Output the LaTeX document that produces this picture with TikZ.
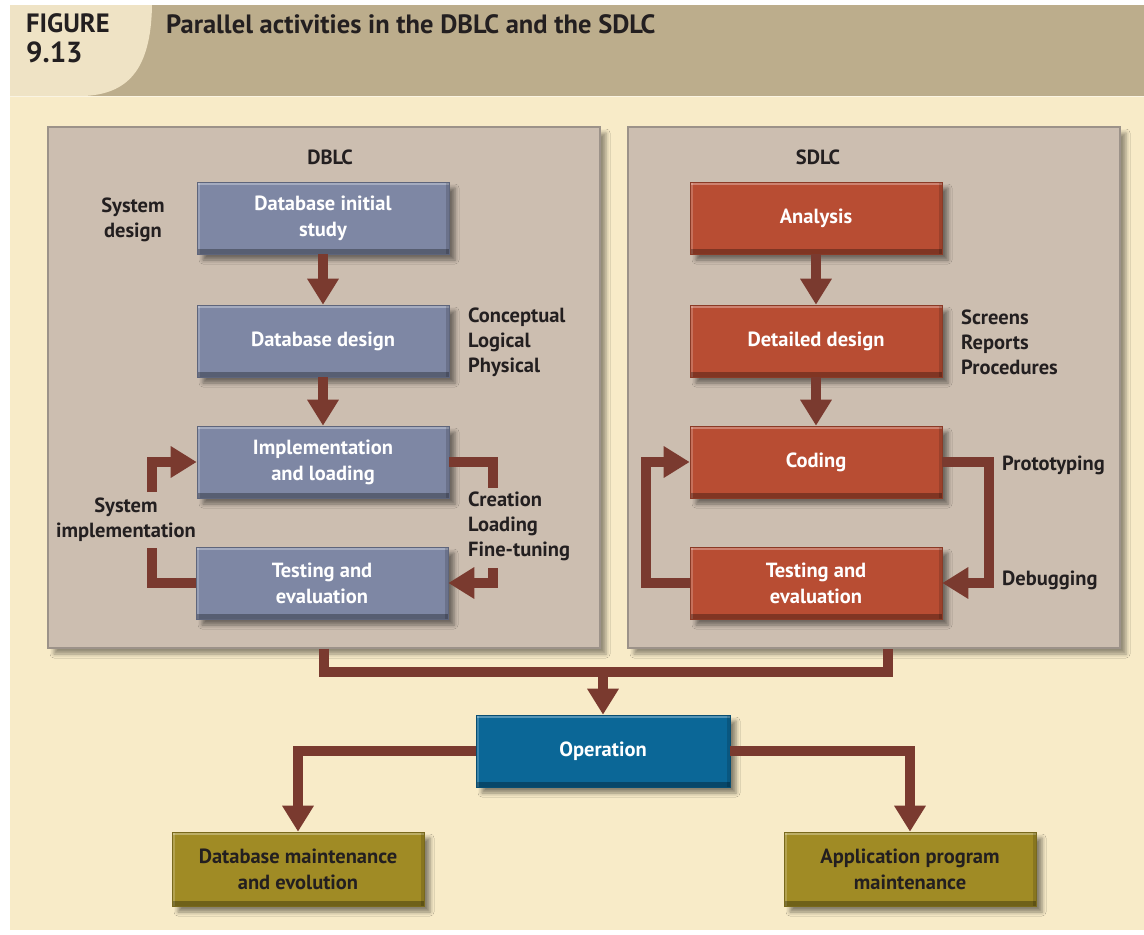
\documentclass[tikz,border=0pt]{standalone}
\usepackage{fontspec}
\setmainfont{PT Sans}
\usetikzlibrary{arrows.meta,shadows.blur}

\definecolor{pagecream}{HTML}{F8EBC8}
\definecolor{headtan}{HTML}{BCAD8C}
\definecolor{tablight}{HTML}{EFE3C5}
\definecolor{panelfill}{HTML}{CCBEB0}
\definecolor{paneledge}{HTML}{9C9289}
\definecolor{dbblue}{HTML}{7E87A4}
\definecolor{sdred}{HTML}{B84D33}
\definecolor{opblue}{HTML}{0B6797}
\definecolor{olive}{HTML}{A08B25}
\definecolor{arrowbrown}{HTML}{7A3A2F}
\definecolor{inkdark}{HTML}{231F20}

\tikzset{
  bevel/.style={path picture={
    \fill[white,opacity=0.30] (path picture bounding box.north west) rectangle ([yshift=-3pt]path picture bounding box.north east);
    \fill[white,opacity=0.20] (path picture bounding box.north west) rectangle ([xshift=3pt]path picture bounding box.south west);
    \fill[black,opacity=0.30] (path picture bounding box.south west) rectangle ([yshift=5pt]path picture bounding box.south east);
    \fill[black,opacity=0.15] (path picture bounding box.north east) rectangle ([xshift=-3pt]path picture bounding box.south east);
  }},
  boxshadow/.style={blur shadow={shadow xshift=6pt, shadow yshift=-6pt, shadow opacity=45, shadow blur radius=4pt}},
  procbox/.style={rectangle, minimum width=252pt, minimum height=72pt, inner sep=0pt,
    align=center, font=\bfseries\fontsize{20.5}{26}\selectfont, text=white,
    fill=#1, draw=#1!75!black, line width=0.6pt, bevel, boxshadow},
  panel/.style={rectangle, fill=panelfill, draw=paneledge, line width=1.2pt, inner sep=0pt,
    blur shadow={shadow xshift=6pt, shadow yshift=-6pt, shadow opacity=40, shadow blur radius=4pt}},
  note/.style={font=\bfseries\fontsize{20.5}{25}\selectfont, text=inkdark, inner sep=0pt},
  link/.style={draw=arrowbrown, line width=10pt, line join=miter},
  flow/.style={link, -{Triangle[width=30pt,length=26pt]}},
}

\begin{document}
\begin{tikzpicture}[x=1pt,y=-1pt]
\useasboundingbox (0,0) rectangle (1144,935);
\fill[white] (0,0) rectangle (1144,935);

% page and header band
\fill[pagecream] (10,96) rectangle (1144,930);
\fill[headtan] (10,5) rectangle (1144,96);
\fill[tablight] (10,5) -- (152,5) .. controls (151,72) and (126,94) .. (84,96) -- (10,96) -- cycle;
\draw[white,opacity=0.5,line width=1pt] (10,96.5) -- (1144,96.5);

\node[anchor=west, font=\bfseries\fontsize{26.5}{28}\selectfont, text=inkdark, inner sep=0pt] (figword) at (26,23) {FIGURE};
\node[anchor=west, font=\bfseries\fontsize{29}{31}\selectfont, text=inkdark, inner sep=0pt] (fignum) at (26,52) {9.13};
\node[anchor=west, font=\bfseries\fontsize{26.5}{28}\selectfont, text=inkdark, inner sep=0pt] (title) at (166,24) {Parallel activities in the DBLC and the SDLC};

% the two life-cycle panels
\node[panel, minimum width=552pt, minimum height=521pt] (dblc) at (324,387.5) {};
\node[panel, minimum width=492pt, minimum height=521pt] (sdlc) at (874,387.5) {};
\node[note] (dblct) at (330,157) {DBLC};
\node[note] (sdlct) at (818,157) {SDLC};

% DBLC steps
\node[procbox=dbblue] (dbis) at (323,218) {Database initial\\study};
\node[procbox=dbblue] (dbd) at (323,341) {Database design};
\node[procbox=dbblue] (impl) at (323,462) {Implementation\\and loading};
\node[procbox=dbblue] (dtest) at (322,583) {Testing and\\evaluation};

% SDLC steps
\node[procbox=sdred] (ana) at (816,218) {Analysis};
\node[procbox=sdred] (det) at (816,341) {Detailed design};
\node[procbox=sdred] (cod) at (816,462) {Coding};
\node[procbox=sdred] (stest) at (816,583) {Testing and\\evaluation};

% shared steps
\node[procbox=opblue, minimum width=254pt] (op) at (603,751) {Operation};
\node[procbox=olive, minimum height=74pt, text=inkdark] (dbm) at (298,869) {Database maintenance\\and evolution};
\node[procbox=olive, minimum height=74pt, text=inkdark] (apm) at (910,869) {Application program\\maintenance};

% side labels
\node[note, align=center] (sysdes) at (133,220) {System\\design};
\node[note, align=left, anchor=west] (dbdlab) at (468,342) {Conceptual\\Logical\\Physical};
\node[note, align=center] (sysimp) at (126,520) {System\\implementation};
\node[note, align=left, anchor=west] (impllab) at (468,526) {Creation\\Loading\\Fine-tuning};
\node[note, align=left, anchor=west] (detlab) at (961,342) {Screens\\Reports\\Procedures};
\node[note, anchor=west] (protlab) at (1002,465) {Prototyping};
\node[note, anchor=west] (deblab) at (1002,580) {Debugging};

% loop-end coordinates
\coordinate (dl1) at (152,548);
\coordinate (dl2) at (152,492);
\coordinate (dr1) at (493,488);
\coordinate (dr2) at (493,568);
\coordinate (sr) at (989,520);
\coordinate (sl) at (646,520);
\coordinate (jr) at (888,672);

% DBLC flow
\draw[flow] (dbis) -- (dbd);
\draw[flow] (dbd) -- (impl);
\draw[link] (dtest.west) -| (dl1);
\draw[flow] (dl2) |- (impl.west);
\draw[link] (impl.east) -| (dr1);
\draw[flow] (dr2) |- (dtest.east);

% SDLC flow
\draw[flow] (ana) -- (det);
\draw[flow] (det) -- (cod);
\draw[flow] (cod.east) -| (sr) |- (stest.east);
\draw[flow] (stest.west) -| (sl) |- (cod.west);

% merge into operation and branch out
\draw[link] (dblc.south) |- (jr) -- (jr |- sdlc.south);
\draw[flow] (op |- jr) -- (op.north);
\draw[flow] (op.west) -| (dbm.north);
\draw[flow] (op.east) -| (apm.north);
\end{tikzpicture}
\end{document}
